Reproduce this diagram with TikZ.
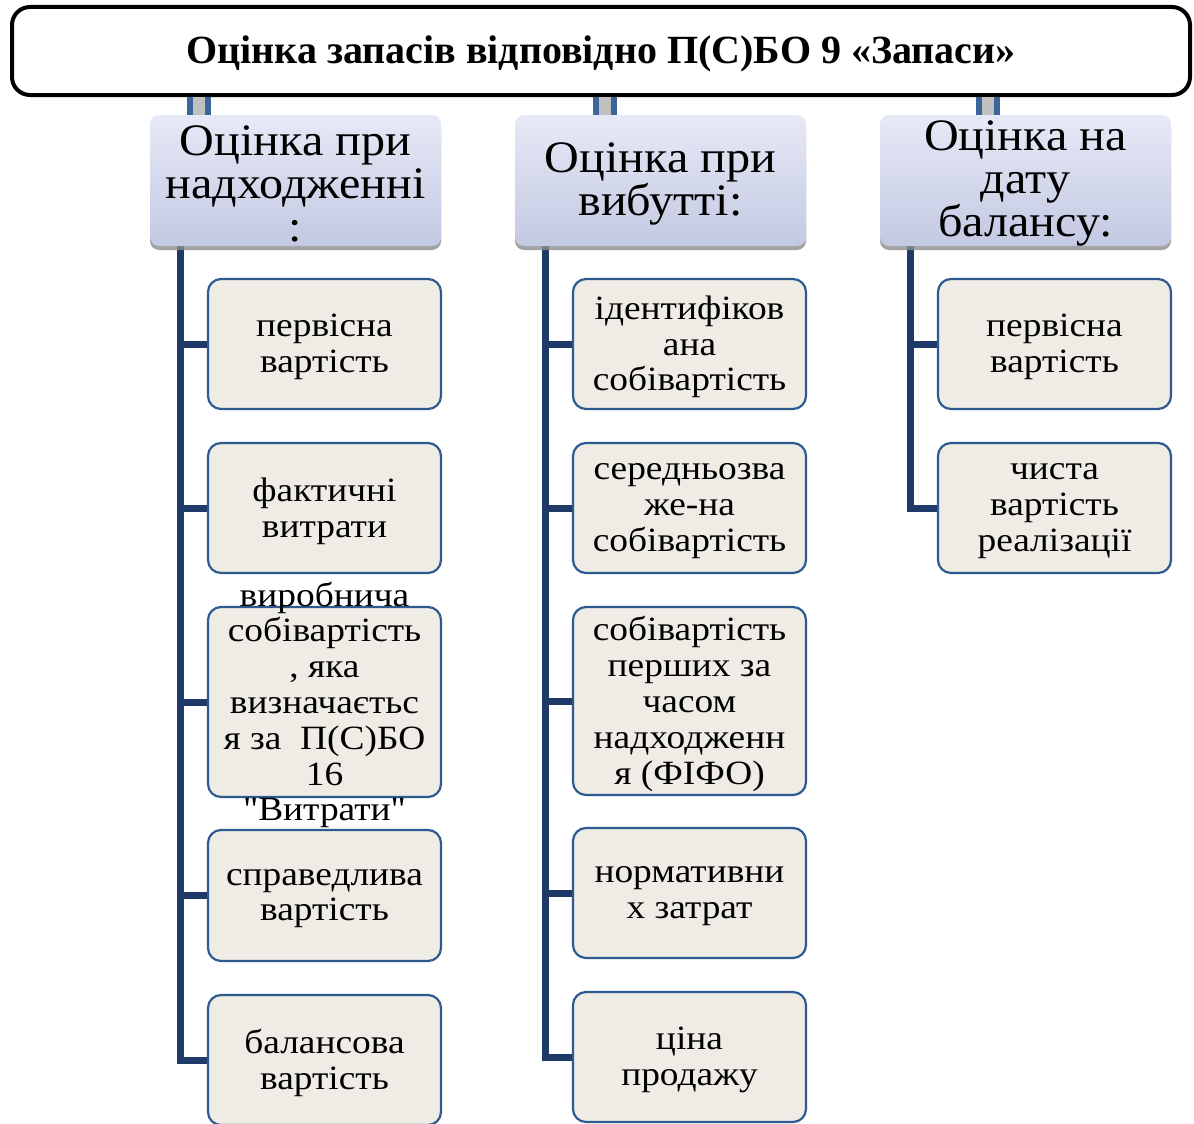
\documentclass[tikz,border=0pt]{standalone}
\usepackage{fontspec}
\setmainfont{Liberation Serif}
\newfontfamily\childfont[FakeStretch=1.1]{Liberation Serif}
\newfontfamily\catfont[FakeStretch=1.07]{Liberation Serif}
\usetikzlibrary{shadows}
\definecolor{navy}{HTML}{1F3A68}
\definecolor{edgeblue}{HTML}{3A669C}
\definecolor{barfill}{HTML}{C0C0C0}
\definecolor{beige}{HTML}{EEECE4}
\definecolor{boxline}{HTML}{2E5A92}
\definecolor{lavtop}{HTML}{E6E9F6}
\definecolor{lavbot}{HTML}{C3C9E2}
\tikzset{
  titlebox/.style={draw=black, line width=4pt, rounded corners=18pt, fill=white,
    minimum width=1178pt, minimum height=88pt, inner sep=0pt},
  titletext/.style={font=\fontsize{40}{46}\selectfont\bfseries, inner sep=0pt, yshift=-3pt},
  catbox/.style={rounded corners=9pt, top color=lavtop, bottom color=lavbot, draw=none,
    minimum width=291pt, minimum height=131pt, inner sep=0pt,
    drop shadow={shadow xshift=0pt, shadow yshift=-4pt, fill=black!45, opacity=0.8}},
  cattext/.style={font=\catfont\fontsize{45}{43}\selectfont, align=center, inner sep=0pt, yshift=-3pt},
  childbox/.style={draw=boxline, line width=2.2pt, fill=beige, rounded corners=13pt,
    minimum width=233pt, minimum height=130pt, inner sep=0pt},
  childtext/.style={font=\childfont\fontsize{34}{35.8}\selectfont, align=center, inner sep=0pt, yshift=-3pt},
  trunk/.style={draw=navy, line width=7pt},
  bar/.style={draw=edgeblue, line width=6pt, double=barfill, double distance=12pt}
}
\begin{document}
\begin{tikzpicture}[x=1pt,y=-1pt]
\useasboundingbox (0,0) rectangle (1194,1124);
% title
\node[titlebox] (title) at (601,51) {};
\node[titletext] (titlet) at (title.center) {Оцінка запасів відповідно П(С)БО 9 «Запаси»};
% category boxes (positions)
\coordinate (c1pos) at (295.5,180.5);
\coordinate (c2pos) at (660.5,180.5);
\coordinate (c3pos) at (1025.5,180.5);
% bars from title to categories
\coordinate (b1) at (199,0);
\coordinate (b2) at (605,0);
\coordinate (b3) at (988,0);
\draw[bar] (b1 |- title.south) -- (b1 |- c1pos);
\draw[bar] (b2 |- title.south) -- (b2 |- c2pos);
\draw[bar] (b3 |- title.south) -- (b3 |- c3pos);
% child boxes column 1
\node[childbox] (a1) at (324.5,344) {};
\node[childbox] (a2) at (324.5,508) {};
\node[childbox, minimum height=190pt] (a3) at (324.5,702) {};
\node[childbox, minimum height=131pt] (a4) at (324.5,895.5) {};
\node[childbox] (a5) at (324.5,1060) {};
% column 2
\node[childbox] (m1) at (689.5,344) {};
\node[childbox] (m2) at (689.5,508) {};
\node[childbox, minimum height=188pt] (m3) at (689.5,701) {};
\node[childbox] (m4) at (689.5,893) {};
\node[childbox] (m5) at (689.5,1057) {};
% column 3
\node[childbox] (r1) at (1054.5,344) {};
\node[childbox] (r2) at (1054.5,508) {};
% trunks
\coordinate (t1) at (180,240);
\coordinate (t2) at (545,240);
\coordinate (t3) at (910,240);
\draw[trunk] (t1) |- (a5.west);
\foreach \n in {a1,a2,a3,a4} \draw[trunk] (t1 |- \n.west) -- (\n.west);
\draw[trunk] (t2) |- (m5.west);
\foreach \n in {m1,m2,m3,m4} \draw[trunk] (t2 |- \n.west) -- (\n.west);
\draw[trunk] (t3) |- (r2.west);
\draw[trunk] (t3 |- r1.west) -- (r1.west);
% category boxes
\node[catbox] (c1) at (c1pos) {};
\node[catbox] (c2) at (c2pos) {};
\node[catbox] (c3) at (c3pos) {};
\node[cattext] (c1t) at (c1.center) {Оцінка при\\надходженні\\:};
\node[cattext] (c2t) at (c2.center) {Оцінка при\\вибутті:};
\node[cattext] (c3t) at (c3.center) {Оцінка на\\дату\\балансу:};
% child texts
\node[childtext] (a1t) at (a1.center) {первісна\\вартість};
\node[childtext] (a2t) at (a2.center) {фактичні\\витрати};
\node[childtext] (a3t) at (a3.center) {виробнича\\собівартість\\, яка\\визначаєтьс\\я за~~П(С)БО\\16\\\char34Витрати\char34};
\node[childtext] (a4t) at (a4.center) {справедлива\\вартість};
\node[childtext] (a5t) at (a5.center) {балансова\\вартість};
\node[childtext] (m1t) at (m1.center) {ідентифіков\\ана\\собівартість};
\node[childtext] (m2t) at (m2.center) {середньозва\\же-на\\собівартість};
\node[childtext] (m3t) at (m3.center) {собівартість\\перших за\\часом\\надходженн\\я (ФІФО)};
\node[childtext] (m4t) at (m4.center) {нормативни\\х затрат};
\node[childtext] (m5t) at (m5.center) {ціна\\продажу};
\node[childtext] (r1t) at (r1.center) {первісна\\вартість};
\node[childtext] (r2t) at (r2.center) {чиста\\вартість\\реалізації};
\end{tikzpicture}
\end{document}
